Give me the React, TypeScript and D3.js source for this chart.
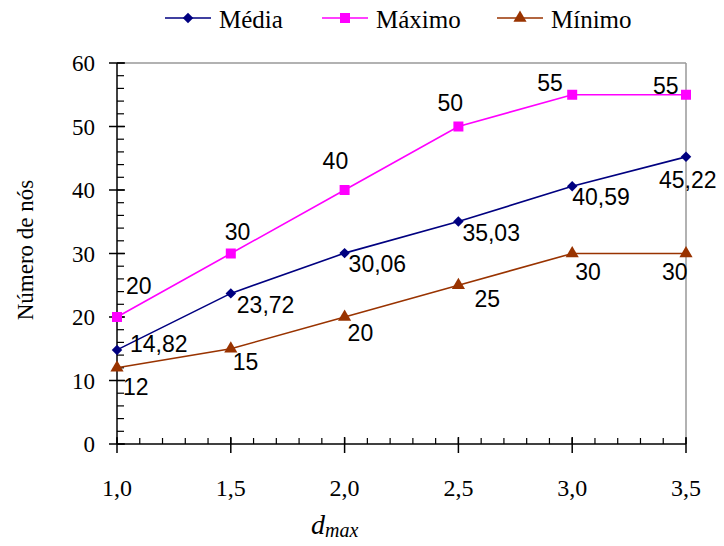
import React from "react";
import * as d3 from "d3";

const dmax = [1.0, 1.5, 2.0, 2.5, 3.0, 3.5];
const media = [14.82, 23.72, 30.06, 35.03, 40.59, 45.22];
const maximo = [20, 30, 40, 50, 55, 55];
const minimo = [12, 15, 20, 25, 30, 30];
const yTicks = [0, 10, 20, 30, 40, 50, 60];
const xTicks = [1.0, 1.5, 2.0, 2.5, 3.0, 3.5];
const seriesNames = ["Média", "Máximo", "Mínimo"];

// label offsets (styling): [dx, dy] from point, text-anchor start, dy to baseline
const mediaOff = [[13, 2], [6, 20], [4, 19], [4, 19], [0, 19], [-27, 31]];
const maxOff = [[9, -23], [-6, -14], [-22, -21], [-21, -16], [-35, -4], [-33, -1]];
const minOff = [[6, 27], [2, 21], [3, 24], [16, 22], [3, 26], [-24, 26]];

const SERIF = "'Liberation Serif', 'Times New Roman', Times, serif";
const SANS = "'Liberation Sans', Arial, sans-serif";

const fmt = (v: number) => {
  const s = Number.isInteger(v) ? String(v) : v.toFixed(2);
  return s.replace(".", ",");
};

export default function App() {
  const W = 724, H = 546;
  const x = d3.scaleLinear().domain([1.0, 3.5]).range([117, 686]);
  const y = d3.scaleLinear().domain([0, 60]).range([444, 63]);
  const line = d3.line<number>().x((_, i) => x(dmax[i])).y((v) => y(v));

  const series = [
    { name: seriesNames[0], data: media, color: "#000080", marker: "diamond", off: mediaOff },
    { name: seriesNames[1], data: maximo, color: "#FF00FF", marker: "square", off: maxOff },
    { name: seriesNames[2], data: minimo, color: "#993300", marker: "triangle", off: minOff },
  ];

  const sym = (m: string) => {
    if (m === "diamond") return d3.symbol().type(d3.symbolDiamond2).size(70)();
    if (m === "square") return d3.symbol().type(d3.symbolSquare).size(100)();
    return d3.symbol().type(d3.symbolTriangle).size(75)();
  };

  const yMinor = d3.range(0, 60.001, 2);
  const xMinor = d3.range(1.0, 3.5001, 0.1);
  const legendX = [165, 322, 497];

  return (
    <svg width={W} height={H} style={{ position: "absolute", left: 0, top: 0, background: "#fff" }}>
      <rect width={W} height={H} fill="#fff" />
      {/* frame */}
      <line x1={117} x2={686} y1={63} y2={63} stroke="#999" strokeWidth={1.5} />
      <line x1={686} x2={686} y1={63} y2={444} stroke="#999" strokeWidth={1.5} />
      <line x1={117} x2={117} y1={63} y2={444} stroke="#000" strokeWidth={1.5} />
      <line x1={117} x2={686} y1={444} y2={444} stroke="#000" strokeWidth={1.5} />
      {/* y ticks */}
      {yMinor.map((v) => (
        <line key={"ym" + v} x1={117} x2={124} y1={y(v)} y2={y(v)} stroke="#000" strokeWidth={1.2} />
      ))}
      {yTicks.map((v) => (
        <g key={"yt" + v}>
          <line x1={109} x2={125} y1={y(v)} y2={y(v)} stroke="#000" strokeWidth={1.5} />
          <text x={95} y={y(v) + 8} textAnchor="end" style={{ fontFamily: SERIF, fontSize: 23 }} fill="#000">{v}</text>
        </g>
      ))}
      {/* x ticks */}
      {xMinor.map((v, i) => (
        <line key={"xm" + i} x1={x(v)} x2={x(v)} y1={438} y2={444} stroke="#000" strokeWidth={1.2} />
      ))}
      {xTicks.map((v) => (
        <g key={"xt" + v}>
          <line x1={x(v)} x2={x(v)} y1={437} y2={453} stroke="#000" strokeWidth={1.5} />
          <text x={x(v)} y={496} textAnchor="middle" style={{ fontFamily: SERIF, fontSize: 24 }} fill="#000">{v.toFixed(1).replace(".", ",")}</text>
        </g>
      ))}
      {/* axis titles */}
      <text transform="translate(33,250) rotate(-90)" textAnchor="middle" style={{ fontFamily: SERIF, fontSize: 23 }} fill="#000">Número de nós</text>
      <text x={311} y={534} style={{ fontFamily: SERIF, fontSize: 28, fontStyle: "italic" }} fill="#000">
        d<tspan style={{ fontSize: 20 }} dy={3}>max</tspan>
      </text>
      {/* series */}
      {series.map((s) => (
        <g key={s.name}>
          <path d={line(s.data) || ""} fill="none" stroke={s.color} strokeWidth={1.6} />
          {s.data.map((v, i) => (
            <path key={i} d={sym(s.marker) || ""} transform={`translate(${x(dmax[i])},${y(v)})`} fill={s.color} />
          ))}
          {s.data.map((v, i) => (
            <text key={"l" + i} x={x(dmax[i]) + s.off[i][0]} y={y(v) + s.off[i][1]} style={{ fontFamily: SANS, fontSize: 23 }} fill="#000">{fmt(v)}</text>
          ))}
        </g>
      ))}
      {/* legend */}
      {series.map((s, i) => (
        <g key={"lg" + i}>
          <line x1={legendX[i]} x2={legendX[i] + 46} y1={18} y2={18} stroke={s.color} strokeWidth={1.6} />
          <path d={sym(s.marker) || ""} transform={`translate(${legendX[i] + 23},18)`} fill={s.color} />
          <text x={legendX[i] + 54} y={28} style={{ fontFamily: SERIF, fontSize: 25 }} fill="#000">{s.name}</text>
        </g>
      ))}
    </svg>
  );
}
